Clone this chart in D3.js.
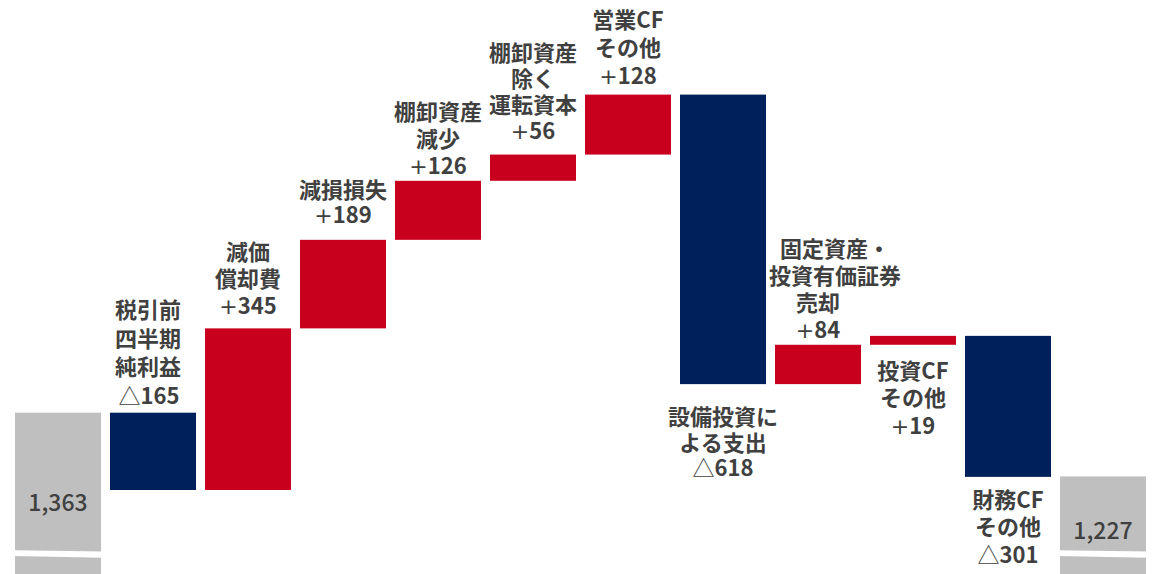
<!DOCTYPE html>
<html><head><meta charset="utf-8">
<script src="https://cdn.jsdelivr.net/npm/d3@7"></script>
<style>body{margin:0;background:#fff}svg{display:block}</style>
</head><body><svg id="c" width="1170" height="574"></svg>
<script>
// ---- data ----
const categories = ["期首残高","税引前四半期純利益","減価償却費","減損損失","棚卸資産減少","棚卸資産除く運転資本","営業CFその他","設備投資による支出","固定資産・投資有価証券売却","投資CFその他","財務CFその他","期末残高"];
const labelLines = [[],["税引前","四半期","純利益"],["減価","償却費"],["減損損失"],["棚卸資産","減少"],["棚卸資産","除く","運転資本"],["営業CF","その他"],["設備投資に","よる支出"],["固定資産・","投資有価証券","売却"],["投資CF","その他"],["財務CF","その他"],[]];
const values = [1363,-165,345,189,126,56,128,-618,84,19,-301,1227];
const barTypes = ["total","delta","delta","delta","delta","delta","delta","delta","delta","delta","delta","total"];

// ---- layout / style ----
const W = 1170, H = 574;
const labelSide = [null,"above","above","above","above","above","above","below","above","below","below",null];
const labelGap = [0,17,22,25,15,23,19,33,15,26,23,0];
const lineH = [0,28.5,27,25,27,26,28,25.5,27,27.5,27.5,0];
const lineDx = {8:[17,17,0,0], 1:[-5,-5,-5,-4]};
const C = {navy:"#00205B", red:"#C8001E", gray:"#BFBFBF", text:"#404040"};

const svg = d3.select("#c");
const x = d3.scaleBand().domain(categories).range([15, 1146]).paddingInner(9/95).paddingOuter(0);
const y = d3.scaleLinear().domain([1198, 2042]).range([490, 94.6]);

// compute waterfall segments
let run = 0;
const segs = values.map((v,i) => {
  if (barTypes[i] === "total") { run = v; return {i, v, type:"total", y0: v, y1: null}; }
  const a = run, b = run + v; run = b;
  return {i, v, type:"delta", y0: Math.max(a,b), y1: Math.min(a,b)};
});

const font = "'Noto Sans CJK JP','Noto Sans',sans-serif";

svg.selectAll("rect.bar").data(segs).join("rect")
  .attr("class","bar")
  .attr("x", d => x(categories[d.i]))
  .attr("width", x.bandwidth())
  .attr("y", d => y(d.y0))
  .attr("height", d => d.type === "total" ? H - y(d.y0) : y(d.y1) - y(d.y0))
  .attr("fill", d => d.type === "total" ? C.gray : (d.v < 0 ? C.navy : C.red));

// axis break on total bars
svg.selectAll("path.brk").data(segs.filter(d => d.type === "total")).join("path")
  .attr("class","brk")
  .attr("fill","#fff")
  .attr("d", d => {
    const x0 = x(categories[d.i]) - 2, x1 = x0 + x.bandwidth() + 4;
    return `M${x0},550.3L${x1},551.6L${x1},557.8L${x0},556Z`;
  });

// total values
const fmt = d3.format(",");
svg.selectAll("text.tot").data(segs.filter(d => d.type === "total")).join("text")
  .attr("class","tot")
  .attr("x", d => x(categories[d.i]) + x.bandwidth()/2)
  .attr("y", d => { const t = y(d.y0); return t + 0.56*(H - t); })
  .attr("dy","0.36em")
  .attr("text-anchor","middle")
  .attr("font-family", font).attr("font-size", 23).attr("font-weight", 500).attr("fill", C.text)
  .text(d => fmt(d.v));

// delta labels: one text element per label, lines as tspans
segs.filter(d => d.type === "delta").forEach(d => {
  const i = d.i;
  const lines = labelLines[i];
  const n = lines.length + 1;
  const cx = x(categories[i]) + x.bandwidth()/2;
  const dxs = lineDx[i] || [];
  const lh = lineH[i];
  const t = svg.append("text").attr("font-family", font).attr("font-size", 22)
    .attr("fill", C.text).attr("text-anchor","middle").attr("font-weight", 700);
  for (let k = 0; k < n; k++) {
    const cy = labelSide[i] === "above"
      ? y(d.y0) - labelGap[i] - (n - 1 - k) * lh
      : y(d.y1) + labelGap[i] + k * lh;
    const base = cy + 22 * 0.36;
    if (k < n - 1) {
      t.append("tspan").attr("x", cx + (dxs[k] || 0)).attr("y", base).text(lines[k]);
    } else {
      t.append("tspan").attr("x", cx + (dxs[k] || 0)).attr("y", base)
        .attr("font-weight", 400)
        .attr("font-family", d.v < 0 ? font : "'DejaVu Sans',sans-serif")
        .text(d.v < 0 ? "△" : "+");
      t.append("tspan").text(Math.abs(d.v));
    }
  }
});
</script></body></html>
